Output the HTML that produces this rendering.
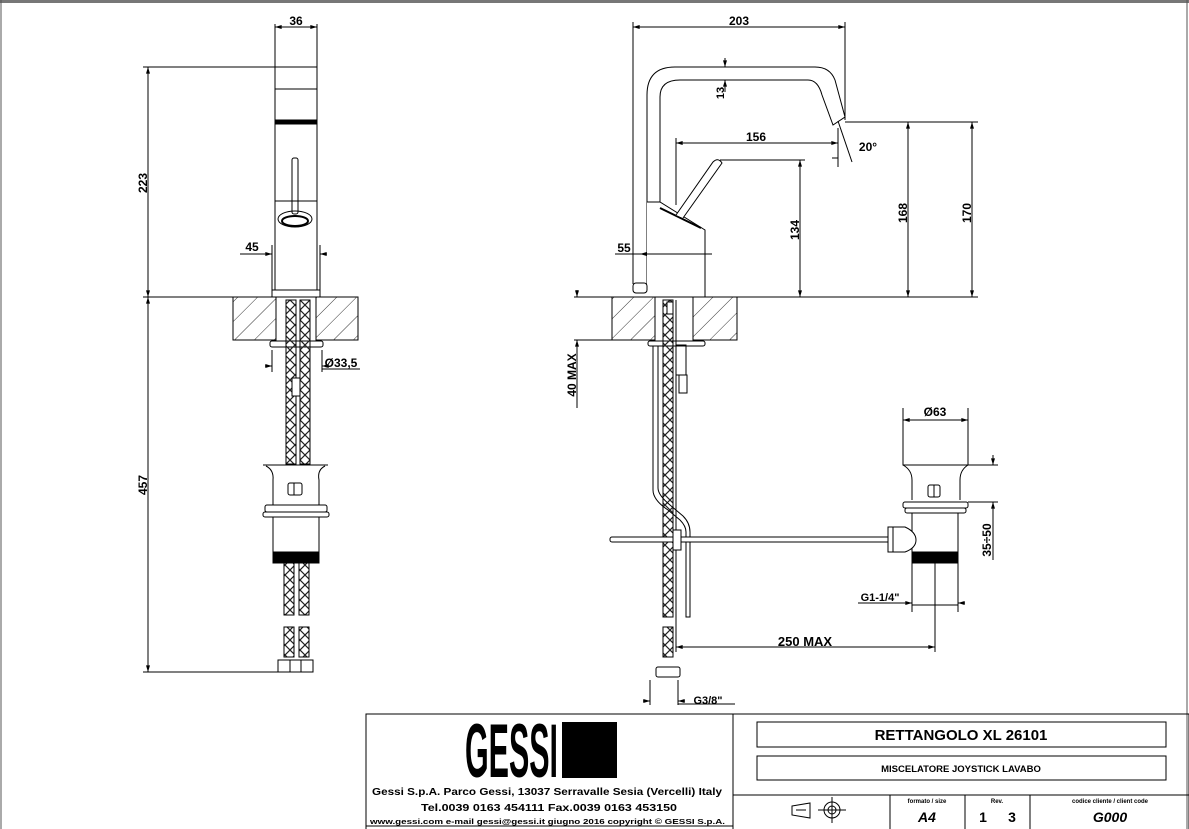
<!DOCTYPE html>
<html><head><meta charset="utf-8"><style>
html,body{margin:0;padding:0;background:#fff}
svg{display:block}
text{font-family:"Liberation Sans",sans-serif;font-weight:bold;fill:#000}
</style></head><body>
<svg width="1189" height="829" viewBox="0 0 1189 829" xmlns="http://www.w3.org/2000/svg">
<defs>
<pattern id="hat" width="14" height="14" patternUnits="userSpaceOnUse" patternTransform="rotate(45)">
<line x1="0" y1="0" x2="0" y2="14" stroke="#333" stroke-width="1"/>
</pattern>
<pattern id="hose" width="10" height="10" patternUnits="userSpaceOnUse">
<path d="M0,0 L10,10 M10,0 L0,10" stroke="#222" stroke-width="1.2" fill="none"/>
</pattern>
<marker id="a" viewBox="0 0 10 6" refX="10" refY="3" markerWidth="8" markerHeight="4" orient="auto-start-reverse"><path d="M0,0 L10,3 L0,6z" fill="#000"/></marker>
</defs>
<rect x="0" y="0" width="1189" height="829" fill="#fff"/>
<rect x="0" y="0" width="1189" height="3" fill="#777"/>
<line x1="1" y1="0" x2="1" y2="829" stroke="#555"/>
<line x1="1187" y1="0" x2="1187" y2="829" stroke="#555"/>

<g stroke="#000" fill="none" stroke-width="1">
<!-- LEFT VIEW -->
<rect x="275" y="67" width="42" height="223" fill="#fff"/>
<line x1="275" y1="89" x2="317" y2="89"/>
<rect x="275" y="120" width="42" height="4" fill="#000"/>
<line x1="275" y1="201" x2="317" y2="201"/>
<rect x="292" y="158" width="6" height="56" rx="2"/>
<ellipse cx="295" cy="219" rx="17" ry="8"/>
<ellipse cx="295" cy="221" rx="13" ry="5" stroke-width="2"/>
<rect x="272" y="290" width="48" height="7"/>
<line x1="272" y1="245" x2="272" y2="290"/>
<line x1="320" y1="245" x2="320" y2="290"/>
<line x1="265" y1="254" x2="272" y2="254" marker-end="url(#a)"/>
<line x1="327" y1="254" x2="320" y2="254" marker-end="url(#a)"/>
<line x1="240" y1="254" x2="265" y2="254"/>
<line x1="275" y1="24" x2="275" y2="67"/>
<line x1="317" y1="24" x2="317" y2="67"/>
<line x1="275" y1="27" x2="317" y2="27" marker-start="url(#a)" marker-end="url(#a)"/>
<line x1="143" y1="67" x2="275" y2="67"/>
<line x1="143" y1="297" x2="234" y2="297"/>
<line x1="148" y1="67" x2="148" y2="297" marker-start="url(#a)" marker-end="url(#a)"/>
<line x1="148" y1="297" x2="148" y2="672" marker-start="url(#a)" marker-end="url(#a)"/>
<line x1="143" y1="672" x2="280" y2="672"/>
<rect x="233" y="297" width="43" height="43" fill="url(#hat)"/>
<rect x="316" y="297" width="42" height="43" fill="url(#hat)"/>
<rect x="270" y="341" width="53" height="6" rx="2"/>
<rect x="286" y="300" width="10" height="164" fill="url(#hose)"/>
<rect x="300" y="300" width="10" height="164" fill="url(#hose)"/>
<rect x="292" y="378" width="8" height="18" fill="#fff"/>
<line x1="272" y1="350" x2="272" y2="372"/>
<line x1="322" y1="350" x2="322" y2="372"/>
<line x1="265" y1="366" x2="272" y2="366" marker-end="url(#a)"/>
<line x1="329" y1="366" x2="322" y2="366" marker-end="url(#a)"/>
<line x1="322" y1="369" x2="360" y2="369"/>
<!-- left drain -->
<path d="M263,465 L328,465 M266,466 Q274,470 273,480 L273,505 M325,466 Q317,470 319,480 L319,505" />
<rect x="288" y="483" width="14" height="12" rx="2"/>
<line x1="294" y1="483" x2="294" y2="495"/>
<rect x="265" y="505" width="62" height="7" rx="2"/>
<rect x="263" y="512" width="66" height="5" rx="2"/>
<rect x="273" y="517" width="46" height="37"/>
<rect x="273" y="552" width="46" height="11" fill="#000"/>
<rect x="284" y="563" width="10" height="52" fill="url(#hose)"/>
<rect x="299" y="563" width="10" height="52" fill="url(#hose)"/>
<rect x="284" y="627" width="10" height="30" fill="url(#hose)"/>
<rect x="299" y="627" width="10" height="30" fill="url(#hose)"/>
<rect x="278" y="660" width="35" height="12"/>
<line x1="290" y1="660" x2="290" y2="672"/><line x1="301" y1="660" x2="301" y2="672"/>

<!-- RIGHT VIEW -->
<line x1="633" y1="22" x2="633" y2="284"/>
<line x1="845" y1="22" x2="845" y2="120"/>
<line x1="633" y1="27" x2="845" y2="27" marker-start="url(#a)" marker-end="url(#a)"/>
<path d="M647,290 L647,95 Q647,67 675,67 L815,67 Q830,67 835,80 L845,117 L833,125 L822,95 Q818,80 808,80 L680,80 Q660,80 660,97 L660,202" />
<path d="M647,202 L660,202 L705,230 L705,297 L647,297" fill="#fff"/>
<path d="M660,208 L701,228" stroke-width="2"/>
<path d="M676,215 L713,162 Q718,157 722,163 L683,218" fill="#fff"/>
<rect x="633" y="283" width="14" height="10" rx="3"/>
<line x1="725" y1="58" x2="725" y2="67" marker-end="url(#a)"/>
<line x1="725" y1="92" x2="725" y2="80" marker-end="url(#a)"/>
<line x1="676" y1="138" x2="676" y2="205"/>
<line x1="676" y1="143" x2="838" y2="143" marker-start="url(#a)" marker-end="url(#a)"/>
<line x1="838" y1="128" x2="838" y2="167"/>
<line x1="838" y1="121" x2="852" y2="162"/>
<path d="M832,158 L838,158"/>
<line x1="720" y1="160" x2="805" y2="160"/>
<line x1="800" y1="160" x2="800" y2="297" marker-start="url(#a)" marker-end="url(#a)"/>
<line x1="845" y1="122" x2="978" y2="122"/>
<line x1="908" y1="122" x2="908" y2="297" marker-start="url(#a)" marker-end="url(#a)"/>
<line x1="972" y1="122" x2="972" y2="297" marker-start="url(#a)" marker-end="url(#a)"/>
<line x1="705" y1="297" x2="978" y2="297"/>
<line x1="640" y1="254" x2="712" y2="254" marker-start="url(#a)"/>
<line x1="615" y1="254" x2="640" y2="254"/>
<line x1="574" y1="297" x2="612" y2="297"/>
<line x1="574" y1="340" x2="612" y2="340"/>
<line x1="577" y1="290" x2="577" y2="297" marker-end="url(#a)"/>
<line x1="577" y1="408" x2="577" y2="340" marker-end="url(#a)"/>
<rect x="612" y="297" width="43" height="43" fill="url(#hat)"/>
<rect x="693" y="297" width="44" height="43" fill="url(#hat)"/>
<rect x="648" y="341" width="57" height="5" rx="2"/>
<rect x="663" y="300" width="10" height="317" fill="url(#hose)"/>
<rect x="663" y="627" width="10" height="30" fill="url(#hose)"/>
<rect x="667" y="302" width="6" height="12" fill="#fff"/>
<rect x="656" y="667" width="24" height="10" rx="2"/>
<line x1="676" y1="300" x2="676" y2="652"/>
<rect x="676" y="345" width="10" height="30"/>
<rect x="679" y="375" width="8" height="18"/>
<path d="M653,346 L653,490 Q653,500 668,510 L680,520 Q686,526 686,532 L686,617 L690,617 L690,532 Q690,523 683,516 L670,505 Q658,495 658,488 L658,346"/>
<rect x="610" y="537" width="284" height="5" rx="2" fill="#fff"/>
<rect x="673" y="530" width="8" height="20" fill="#fff"/>
<line x1="650" y1="680" x2="650" y2="705"/>
<line x1="678" y1="680" x2="678" y2="705"/>
<line x1="643" y1="701" x2="650" y2="701" marker-end="url(#a)"/>
<line x1="685" y1="701" x2="678" y2="701" marker-end="url(#a)"/>
<line x1="678" y1="704" x2="735" y2="704"/>
<line x1="676" y1="647" x2="935" y2="647" marker-start="url(#a)" marker-end="url(#a)"/>
<!-- right drain -->
<rect x="903" y="420" width="65" height="45"/>
<path d="M903,465 Q912,470 912,480 L912,500 M968,465 Q960,470 960,480 L960,500"/>
<rect x="928" y="485" width="12" height="12" rx="2"/>
<line x1="934" y1="485" x2="934" y2="497"/>
<rect x="903" y="502" width="65" height="6" rx="2"/>
<rect x="905" y="508" width="61" height="5" rx="2"/>
<rect x="912" y="513" width="46" height="40"/>
<rect x="912" y="552" width="46" height="11" fill="#000"/>
<rect x="912" y="563" width="46" height="42"/>
<line x1="935" y1="563" x2="935" y2="652"/>
<path d="M888,527 L905,527 Q916,532 916,540 Q916,548 905,552 L888,552z" fill="#fff"/>
<line x1="893" y1="527" x2="893" y2="552"/>
<line x1="903" y1="408" x2="903" y2="420"/><line x1="968" y1="408" x2="968" y2="420"/>
<line x1="903" y1="420" x2="968" y2="420" marker-start="url(#a)" marker-end="url(#a)"/>
<line x1="960" y1="465" x2="998" y2="465"/>
<line x1="968" y1="502" x2="998" y2="502"/>
<line x1="993" y1="455" x2="993" y2="465" marker-end="url(#a)"/>
<line x1="993" y1="560" x2="993" y2="502" marker-end="url(#a)"/>
<line x1="912" y1="605" x2="912" y2="612"/><line x1="958" y1="605" x2="958" y2="612"/>
<line x1="905" y1="603" x2="912" y2="603" marker-end="url(#a)"/>
<line x1="965" y1="603" x2="958" y2="603" marker-end="url(#a)"/>
<line x1="858" y1="603" x2="905" y2="603"/>

<!-- TITLE BLOCK -->
<rect x="366" y="714" width="823" height="120"/>
<line x1="733" y1="714" x2="733" y2="829"/>
<line x1="733" y1="795" x2="1189" y2="795"/>
<line x1="366" y1="826" x2="733" y2="826"/>
<rect x="757" y="722" width="409" height="25"/>
<rect x="757" y="756" width="409" height="24"/>
<line x1="890" y1="795" x2="890" y2="829"/>
<line x1="965" y1="795" x2="965" y2="829"/>
<line x1="1030" y1="795" x2="1030" y2="829"/>
<path d="M792,806 L810,803 L810,818 L792,815z M796,810 L806,810"/>
<circle cx="832" cy="810" r="8"/><circle cx="832" cy="810" r="4"/>
<line x1="818" y1="810" x2="846" y2="810"/><line x1="832" y1="797" x2="832" y2="823"/>
</g>
<rect x="562" y="722" width="55" height="56" fill="#000"/>

<g>
<text x="296" y="25" font-size="12" text-anchor="middle">36</text>
<text x="252" y="251" font-size="12" text-anchor="middle">45</text>
<text x="341" y="367" font-size="12" text-anchor="middle">Ø33,5</text>
<text transform="translate(147,183) rotate(-90)" font-size="12" text-anchor="middle">223</text>
<text transform="translate(147,485) rotate(-90)" font-size="12" text-anchor="middle">457</text>
<text x="739" y="25" font-size="12" text-anchor="middle">203</text>
<text transform="translate(724,93) rotate(-90)" font-size="11" text-anchor="middle">13</text>
<text x="756" y="141" font-size="12" text-anchor="middle">156</text>
<text x="868" y="151" font-size="12" text-anchor="middle">20°</text>
<text transform="translate(799,230) rotate(-90)" font-size="12" text-anchor="middle">134</text>
<text transform="translate(907,213) rotate(-90)" font-size="12" text-anchor="middle">168</text>
<text transform="translate(971,213) rotate(-90)" font-size="12" text-anchor="middle">170</text>
<text x="624" y="252" font-size="12" text-anchor="middle">55</text>
<text transform="translate(576,375) rotate(-90)" font-size="12" text-anchor="middle">40 MAX</text>
<text x="935" y="416" font-size="12" text-anchor="middle">Ø63</text>
<text transform="translate(991,540) rotate(-90)" font-size="12" text-anchor="middle">35÷50</text>
<text x="880" y="601" font-size="11" text-anchor="middle">G1-1/4"</text>
<text x="805" y="646" font-size="13" text-anchor="middle">250  MAX</text>
<text x="708" y="704" font-size="11" text-anchor="middle">G3/8"</text>

<text x="465" y="777" font-size="76" textLength="93" lengthAdjust="spacingAndGlyphs" font-weight="normal">GESSI</text>
<text x="372" y="795" font-size="10" textLength="350" lengthAdjust="spacingAndGlyphs" font-weight="normal">Gessi S.p.A. Parco Gessi, 13037 Serravalle Sesia (Vercelli) Italy</text>
<text x="421" y="811" font-size="10" textLength="256" lengthAdjust="spacingAndGlyphs" font-weight="normal">Tel.0039  0163  454111  Fax.0039  0163  453150</text>
<text x="370" y="824" font-size="7.5" textLength="355" lengthAdjust="spacingAndGlyphs">www.gessi.com  e-mail  gessi@gessi.it    giugno  2016    copyright © GESSI  S.p.A.</text>
<text x="961" y="740" font-size="15" text-anchor="middle" font-weight="normal">RETTANGOLO XL  26101</text>
<text x="961" y="772" font-size="9.5" text-anchor="middle">MISCELATORE JOYSTICK LAVABO</text>
<text x="927" y="803" font-size="6" text-anchor="middle">formato / size</text>
<text x="927" y="822" font-size="14" text-anchor="middle" font-style="italic" font-weight="normal">A4</text>
<text x="997" y="803" font-size="6" text-anchor="middle">Rev.</text>
<text x="983" y="822" font-size="14" text-anchor="middle" font-weight="normal">1</text>
<text x="1012" y="822" font-size="14" text-anchor="middle" font-weight="normal">3</text>
<text x="1110" y="803" font-size="6" text-anchor="middle">codice cliente / client code</text>
<text x="1110" y="822" font-size="14" text-anchor="middle" font-style="italic" font-weight="normal">G000</text>
</g>
</svg>
</body></html>
